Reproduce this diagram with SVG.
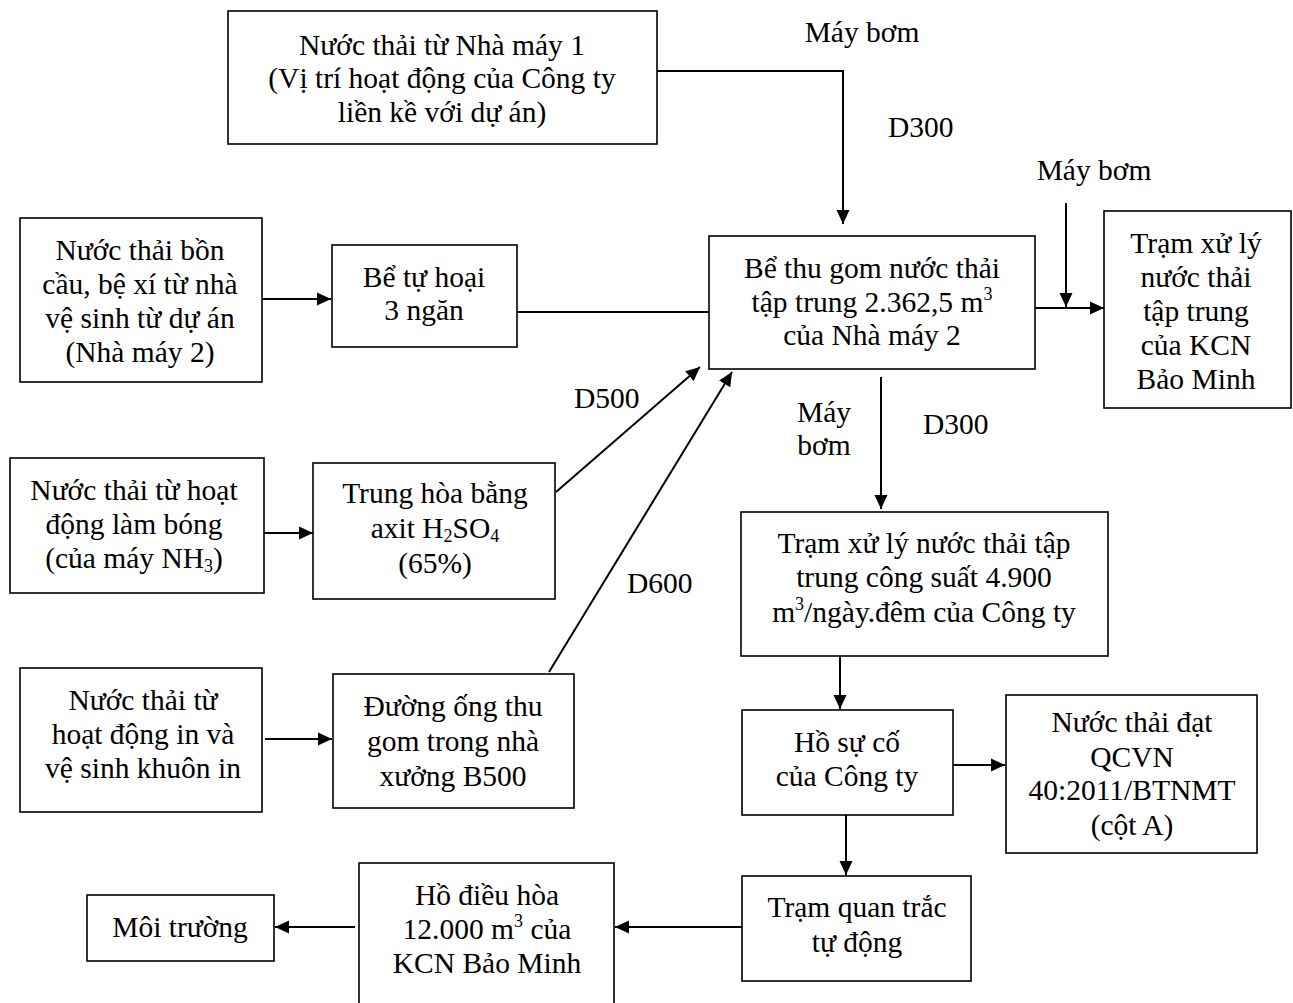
<svg xmlns="http://www.w3.org/2000/svg" width="1293" height="1003" viewBox="0 0 1293 1003">
<defs>
<marker id="ah" markerUnits="userSpaceOnUse" markerWidth="16" markerHeight="14" refX="14" refY="7" orient="auto">
<path d="M0,0.5 L14,7 L0,13.5 z" fill="#000"/>
</marker>
<style>
rect{fill:#fff;stroke:#000;stroke-width:1.6}
text{font-family:"Liberation Serif","Times New Roman",serif;font-size:29.5px;fill:#000}
.c{text-anchor:middle}
.e line,.e polyline{stroke:#000;stroke-width:2;fill:none}
.a{marker-end:url(#ah)}
.s{font-size:18px}
</style>
</defs>
<rect x="0" y="0" width="1293" height="1003" style="fill:#fff;stroke:none"/>
<g class="e" id="connectors">
<polyline class="a" points="657,71 843,71 843,224"/>
<line class="a" x1="262" y1="299" x2="331" y2="299"/>
<line x1="517" y1="312" x2="709" y2="312"/>
<line class="a" x1="556" y1="492" x2="700" y2="367"/>
<line class="a" x1="549" y1="672" x2="732" y2="372"/>
<line class="a" x1="264" y1="533" x2="313" y2="533"/>
<line class="a" x1="265" y1="739" x2="332" y2="739"/>
<line class="a" x1="1035" y1="308" x2="1104" y2="308"/>
<line class="a" x1="1066" y1="203" x2="1066" y2="307"/>
<line class="a" x1="881" y1="377" x2="881" y2="509"/>
<line class="a" x1="840" y1="656" x2="840" y2="709"/>
<line class="a" x1="953" y1="765" x2="1005" y2="765"/>
<line class="a" x1="846" y1="815" x2="846" y2="875"/>
<line class="a" x1="742" y1="927" x2="615" y2="927"/>
<line class="a" x1="355" y1="927" x2="275" y2="927"/>
</g>
<g id="labels">
<text class="c" x="862" y="42">Máy bơm</text>
<text x="888" y="137">D300</text>
<text class="c" x="1094" y="180">Máy bơm</text>
<text x="574" y="408">D500</text>
<text x="627" y="593">D600</text>
<text class="c" x="824" y="422">Máy</text>
<text class="c" x="824" y="455">bơm</text>
<text x="923" y="434">D300</text>
</g>
<g id="n1">
<rect x="228" y="11" width="429" height="133"/>
<text class="c" x="442" y="55">Nước thải từ Nhà máy 1</text>
<text class="c" x="442" y="88">(Vị trí hoạt động của Công ty</text>
<text class="c" x="442" y="122">liền kề với dự án)</text>
</g>
<g id="bon-cau">
<rect x="20" y="218" width="242" height="164"/>
<text class="c" x="140" y="260">Nước thải bồn</text>
<text class="c" x="140" y="294">cầu, bệ xí từ nhà</text>
<text class="c" x="140" y="328">vệ sinh từ dự án</text>
<text class="c" x="140" y="362">(Nhà máy 2)</text>
</g>
<g id="be-tu-hoai">
<rect x="332" y="245" width="185" height="102"/>
<text class="c" x="424" y="287">Bể tự hoại</text>
<text class="c" x="424" y="320">3 ngăn</text>
</g>
<g id="be-thu-gom">
<rect x="709" y="236" width="326" height="133"/>
<text class="c" x="872" y="278">Bể thu gom nước thải</text>
<text class="c" x="872" y="312">tập trung 2.362,5 m<tspan class="s" dy="-12">3</tspan></text>
<text class="c" x="872" y="345">của Nhà máy 2</text>
</g>
<g id="tram-kcn">
<rect x="1104" y="211" width="187" height="197"/>
<text class="c" x="1196" y="253">Trạm xử lý</text>
<text class="c" x="1196" y="287">nước thải</text>
<text class="c" x="1196" y="321">tập trung</text>
<text class="c" x="1196" y="355">của KCN</text>
<text class="c" x="1196" y="389">Bảo Minh</text>
</g>
<g id="lam-bong">
<rect x="10" y="458" width="254" height="135"/>
<text class="c" x="134" y="500">Nước thải từ hoạt</text>
<text class="c" x="134" y="534">động làm bóng</text>
<text class="c" x="134" y="568">(của máy NH<tspan class="s" dy="4">3</tspan><tspan dy="-4">)</tspan></text>
</g>
<g id="trung-hoa">
<rect x="313" y="463" width="242" height="136"/>
<text class="c" x="435" y="503">Trung hòa bằng</text>
<text class="c" x="435" y="538">axit H<tspan class="s" dy="4">2</tspan><tspan dy="-4">SO</tspan><tspan class="s" dy="4">4</tspan></text>
<text class="c" x="435" y="573">(65%)</text>
</g>
<g id="tram-4900">
<rect x="741" y="512" width="367" height="144"/>
<text class="c" x="924" y="553">Trạm xử lý nước thải tập</text>
<text class="c" x="924" y="587">trung công suất 4.900</text>
<text class="c" x="924" y="622">m<tspan class="s" dy="-12">3</tspan><tspan dy="12">/ngày.đêm của Công ty</tspan></text>
</g>
<g id="in-khuon">
<rect x="20" y="668" width="242" height="144"/>
<text class="c" x="143" y="710">Nước thải từ</text>
<text class="c" x="143" y="744">hoạt động in và</text>
<text class="c" x="143" y="778">vệ sinh khuôn in</text>
</g>
<g id="duong-ong">
<rect x="333" y="674" width="241" height="134"/>
<text class="c" x="453" y="716">Đường ống thu</text>
<text class="c" x="453" y="751">gom trong nhà</text>
<text class="c" x="453" y="786">xưởng B500</text>
</g>
<g id="ho-su-co">
<rect x="742" y="710" width="211" height="105"/>
<text class="c" x="847" y="752">Hồ sự cố</text>
<text class="c" x="847" y="786">của Công ty</text>
</g>
<g id="nuoc-dat">
<rect x="1006" y="695" width="251" height="158"/>
<text class="c" x="1132" y="732">Nước thải đạt</text>
<text class="c" x="1132" y="767">QCVN</text>
<text class="c" x="1132" y="800">40:2011/BTNMT</text>
<text class="c" x="1132" y="835">(cột A)</text>
</g>
<g id="quan-trac">
<rect x="742" y="876" width="229" height="105"/>
<text class="c" x="857" y="917">Trạm quan trắc</text>
<text class="c" x="857" y="952">tự động</text>
</g>
<g id="ho-dieu-hoa">
<rect x="359" y="863" width="255" height="150"/>
<text class="c" x="487" y="905">Hồ điều hòa</text>
<text class="c" x="487" y="939">12.000 m<tspan class="s" dy="-12">3</tspan><tspan dy="12"> của</tspan></text>
<text class="c" x="487" y="973">KCN Bảo Minh</text>
</g>
<g id="moi-truong">
<rect x="87" y="895" width="187" height="66"/>
<text class="c" x="180" y="937">Môi trường</text>
</g>
</svg>
